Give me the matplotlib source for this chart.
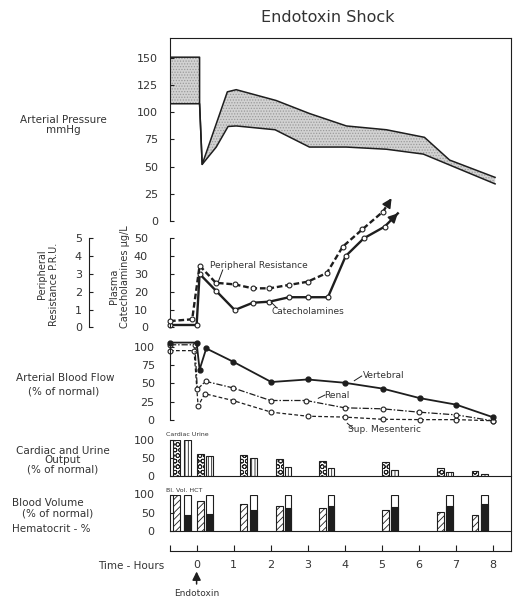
import matplotlib
matplotlib.use('Agg')
import matplotlib.pyplot as plt
from matplotlib.lines import Line2D

W, H = 515, 598
INK = '#1e1e1e'
TXT = '#333333'

# shared time scale (hours), drawn between pixel columns L and R
L, R = 170, 511
T0, T1 = -0.72, 8.5
hour_ticks = [0, 1, 2, 3, 4, 5, 6, 7, 8]

# arterial pressure band (mmHg): upper and lower edge
press_hi_t = [-0.72, 0.08, 0.08, 0.15, 0.83, 1.07, 2.15, 3.05, 4.05, 5.13, 6.16, 6.84, 8.07]
press_hi = [151, 151, 108, 52, 119, 121, 111, 99, 87.5, 84, 77, 56, 40]
press_lo_t = [-0.72, 0.08, 0.15, 0.53, 0.85, 1.07, 2.12, 3.05, 4.05, 5.13, 6.13, 8.07]
press_lo = [108, 108, 52, 68, 87, 87.5, 84, 68, 68, 66, 61.5, 34]

# plasma catecholamines (ug/L) and peripheral resistance (P.R.U.)
cat_t = [-0.72, 0.0, 0.08, 0.53, 1.03, 1.52, 1.97, 2.5, 3.0, 3.55, 4.03, 4.52, 5.08]
cat = [1.3, 1.3, 30, 20.4, 9.7, 13.8, 14.4, 16.9, 16.9, 16.9, 40, 50, 56.5]
cat_tip = (5.44, 64)
pr_t = [-0.72, -0.12, 0.08, 0.52, 1.03, 1.52, 1.97, 2.5, 3.0, 3.52, 3.95, 4.48, 5.04]
pr = [0.35, 0.45, 3.46, 2.5, 2.41, 2.19, 2.19, 2.38, 2.56, 3.05, 4.53, 5.5, 6.5]
pr_tip = (5.27, 7.25)

# arterial blood flow, % of normal
vert_t = [-0.72, 0.0, 0.08, 0.26, 0.98, 2.02, 3.0, 4.0, 5.03, 6.03, 7.02, 8.0]
vert = [106, 106, 69, 98, 80, 52, 55.5, 51, 43, 30, 21, 4]
renal_t = [-0.72, -0.05, 0.02, 0.24, 0.98, 2.0, 2.96, 4.0, 5.03, 6.02, 7.02, 8.0]
renal = [103, 103, 42, 53, 44, 26.7, 26.7, 16.7, 15.3, 10.7, 7, -1]
mes_t = [-0.72, -0.07, 0.04, 0.22, 0.98, 2.02, 3.0, 4.0, 5.03, 6.03, 7.02, 8.0]
mes = [95, 95, 19, 36, 26.7, 10.7, 5.2, 4, 1, 0.5, 0.5, -1]

# bar groups: first bar of each pair (cardiac / blood volume), second (urine / hct)
bar1_t = [-0.55, 0.11, 1.27, 2.24, 3.40, 5.11, 6.60, 7.53]
bar2_t = [-0.24, 0.35, 1.53, 2.47, 3.63, 5.35, 6.83, 7.79]
cardiac = [100, 61.5, 57, 47.5, 40, 39, 23, 14]
urine = [100, 56, 48, 25, 21, 16, 11, 6]
blood_vol = [100, 83, 73, 68, 64, 59, 52, 45]
hematocrit = [43, 48, 57, 63, 68, 66, 70, 73]

plt.rcParams['font.family'] = 'DejaVu Sans'
plt.rcParams['hatch.linewidth'] = 0.6
fig = plt.figure(figsize=(W / 100, H / 100), dpi=100)


def box(top, bottom):
    return [L / W, 1 - bottom / H, (R - L) / W, (bottom - top) / H]


def panel(top, bottom, ylim, ticks, pad, base=False):
    ax = fig.add_axes(box(top, bottom))
    ax.set_xlim(T0, T1)
    ax.set_ylim(*ylim)
    ax.patch.set_visible(False)
    for s in ['top', 'right', 'bottom']:
        ax.spines[s].set_visible(False)
    if base:
        ax.spines['bottom'].set_visible(True)
        ax.spines['bottom'].set_color(INK)
    ax.spines['left'].set_color(INK)
    ax.set_xticks([])
    ax.set_yticks(ticks)
    ax.tick_params(axis='y', direction='in', length=3, width=0.8, color=INK,
                   labelsize=8, labelcolor=TXT, pad=pad)
    return ax


def text(x, y, s, size=7.5, **kw):
    kw.setdefault('ha', 'center')
    kw.setdefault('va', 'center')
    fig.text(x / W, 1 - y / H, s, fontsize=size, color=TXT, **kw)


def leader(x0, y0, x1, y1):
    fig.add_artist(Line2D([x0 / W, x1 / W], [1 - y0 / H, 1 - y1 / H],
                          transform=fig.transFigure, color=INK, lw=0.7))


def arrow_end(ax, t, v, tip):
    back = (t + 0.55 * (tip[0] - t), v + 0.55 * (tip[1] - v))
    ax.annotate('', xy=tip, xytext=back, annotation_clip=False,
                arrowprops=dict(arrowstyle='-|>,head_length=0.55,head_width=0.28',
                                color=INK, lw=1.2, shrinkA=0, shrinkB=0))


# outer frame with the time axis
frame = fig.add_axes(box(37.7, 550.7))
frame.set_xlim(T0, T1)
frame.set_ylim(0, 1)
frame.spines['left'].set_visible(False)
for s in ['top', 'right', 'bottom']:
    frame.spines[s].set_color(INK)
frame.set_yticks([])
frame.set_xticks([T0] + hour_ticks)
frame.set_xticklabels([''] + [str(h) for h in hour_ticks])
frame.tick_params(axis='x', direction='in', length=4, width=0.8, color=INK,
                  labelsize=8, labelcolor=TXT, pad=7)

# arterial pressure
ax_p = panel(37.7, 220.7, (0, 169), range(0, 151, 25), 8.5)
band_x = press_hi_t + press_lo_t[::-1]
band_y = press_hi + press_lo[::-1]
ax_p.fill(band_x, band_y, facecolor='#d2d2d2', edgecolor='#9a9a9a', hatch='......', lw=0)
ax_p.plot(press_hi_t, press_hi, color=INK, lw=1.1)
ax_p.plot(press_lo_t, press_lo, color=INK, lw=1.1)

# catecholamines and peripheral resistance
ax_c = panel(238.3, 327.3, (0, 50), range(0, 51, 10), 16)
ax_c.plot(cat_t + [cat_tip[0]], cat + [cat_tip[1]], color=INK, lw=1.7, clip_on=False)
ax_c.plot(cat_t, cat, 'o', ms=3.5, mfc='white', mec=INK, mew=0.8, clip_on=False)
arrow_end(ax_c, cat_t[-1], cat[-1], cat_tip)

ax_r = ax_c.twinx()
ax_r.set_ylim(0, 5)
ax_r.set_yticks(range(0, 6))
for s in ['top', 'right', 'bottom']:
    ax_r.spines[s].set_visible(False)
ax_r.spines['left'].set_visible(True)
ax_r.spines['left'].set_color(INK)
ax_r.spines['left'].set_position(('axes', (89 - L) / (R - L)))
ax_r.yaxis.set_ticks_position('left')
ax_r.tick_params(axis='y', direction='in', length=3, width=0.8, color=INK,
                 labelsize=8, labelcolor=TXT, pad=5)
ax_r.plot(pr_t + [pr_tip[0]], pr + [pr_tip[1]], color=INK, lw=1.7,
          ls=(0, (2.4, 1.2)), clip_on=False)
ax_r.plot(pr_t, pr, 'o', ms=3.5, mfc='white', mec=INK, mew=0.8, clip_on=False)
arrow_end(ax_r, pr_t[-1], pr[-1], pr_tip)

# arterial blood flow
ax_f = panel(345, 420, (0, 102.7), range(0, 101, 25), 11)
ax_f.plot(mes_t, mes, color=INK, lw=0.9, ls=(0, (3, 1.8)), marker='o', ms=3.5,
          mfc='white', mec=INK, mew=0.8, clip_on=False)
ax_f.plot(renal_t, renal, color=INK, lw=0.9, ls=(0, (5, 1.5, 1.2, 1.5)), marker='o',
          ms=3.5, mfc='white', mec=INK, mew=0.8, clip_on=False)
ax_f.plot(vert_t, vert, color=INK, lw=1.3, marker='o', ms=3.5, mfc=INK, mec=INK,
          clip_on=False)

# cardiac and urine output
bw = 0.18
ax_u = panel(439.5, 476, (0, 100), [0, 50, 100], 11, base=True)
ax_u.bar(bar1_t, cardiac, width=bw, facecolor='white', edgecolor=INK, lw=0.8, hatch='OOO')
ax_u.bar(bar2_t, urine, width=bw, facecolor='white', edgecolor=INK, lw=0.8, hatch='|||||')

# blood volume and hematocrit
ax_b = panel(494.5, 531.2, (0, 100), [0, 50, 100], 11, base=True)
ax_b.bar(bar1_t, blood_vol, width=bw, facecolor='white', edgecolor=INK, lw=0.8, hatch='/////')
ax_b.bar(bar2_t, [100] * len(bar2_t), width=bw, facecolor='white', edgecolor=INK, lw=0.8)
ax_b.bar(bar2_t, hematocrit, width=bw, facecolor=INK, edgecolor=INK, lw=0.8)

# titles and row labels
text(328, 18, 'Endotoxin Shock', size=11.5)
text(63.5, 120, 'Arterial Pressure')
text(63, 130, 'mmHg')
text(42, 274, 'Peripheral', size=7, rotation=90)
text(54, 284, 'Resistance P.R.U.', size=7, rotation=90)
text(114, 286, 'Plasma', size=7, rotation=90)
text(125, 277, 'Catecholamines µg/L', size=7, rotation=90)
text(65.5, 378, 'Arterial Blood Flow')
text(63.5, 392, '(% of normal)')
text(62.5, 451, 'Cardiac and Urine')
text(62.5, 460, 'Output')
text(62.5, 469.5, '(% of normal)')
text(12, 503, 'Blood Volume', ha='left')
text(22, 514, '(% of normal)', ha='left')
text(12, 529, 'Hematocrit - %', ha='left')
text(131, 566, 'Time - Hours')
text(187, 434, 'Cardiac Urine', size=4.5)
text(184, 490, 'Bl. Vol. HCT', size=4.5)

# curve names
text(259, 266, 'Peripheral Resistance', size=6.5)
leader(222.7, 270, 218.3, 281.7)
text(308, 311, 'Catecholamines', size=6.5)
leader(277, 308, 271, 302)
text(384, 375, 'Vertebral', size=6.5)
leader(354.3, 380.7, 361.7, 376)
text(337, 395, 'Renal', size=6.5)
leader(318.3, 398.3, 325, 395)
text(384, 429, 'Sup. Mesenteric', size=6.5)
leader(347.3, 423.3, 353.3, 428.3)

# injection marker under hour 0
fig.add_artist(plt.Annotation('', xy=(196.6 / W, 1 - 571.5 / H), xycoords='figure fraction',
                              xytext=(196.6 / W, 1 - 584 / H), textcoords='figure fraction',
                              arrowprops=dict(arrowstyle='-|>,head_length=0.5,head_width=0.25',
                                              color=INK, lw=1.1, shrinkA=0, shrinkB=0)))
text(196.6, 594, 'Endotoxin', size=6.5)

fig.savefig('out.png', dpi=100, facecolor='white')
